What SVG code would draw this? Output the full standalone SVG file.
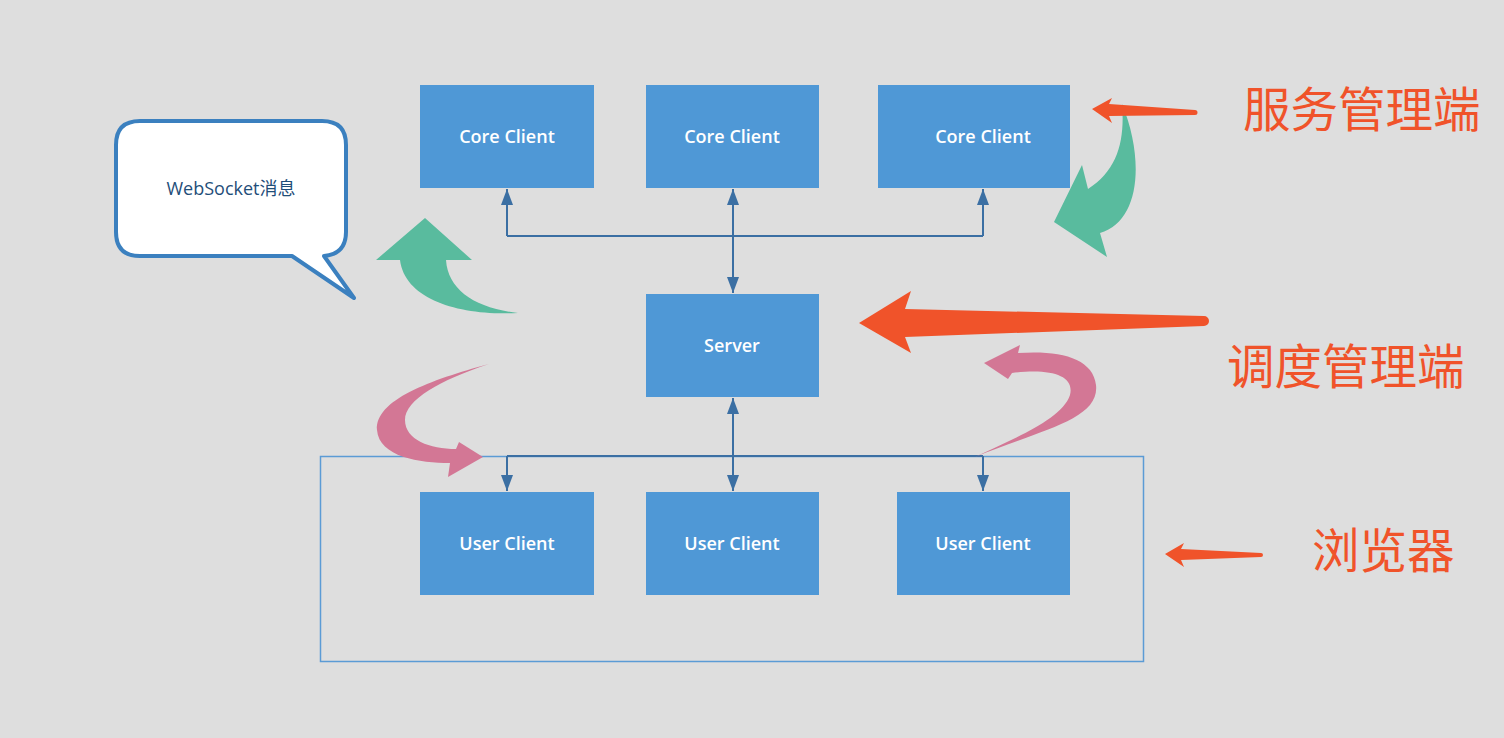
<svg xmlns="http://www.w3.org/2000/svg" width="1504" height="738" viewBox="0 0 1504 738">
<defs>
<style>
.box{fill:#4f98d6;}
.bt{fill:#ffffff;font-family:"Open Sans","Liberation Sans",sans-serif;font-size:18px;font-weight:600;text-anchor:middle;}
.conn{fill:none;stroke:#3b6fa3;stroke-width:2;}
.lbl{fill:#f0532a;font-family:"Noto Sans CJK SC","Noto Sans",sans-serif;font-size:47.5px;}
.orange{fill:#f0532a;}
.green{fill:#59bb9e;}
.pink{fill:#d37795;}
</style>
<marker id="ah" viewBox="0 0 16 12" refX="16" refY="6" markerWidth="8" markerHeight="6" markerUnits="strokeWidth" orient="auto">
<path d="M0,0 L16,6 L0,12 Z" fill="#3b6fa3"/>
</marker>
</defs>
<rect x="0" y="0" width="1504" height="738" fill="#dedede"/>

<g id="browser-frame">
<rect x="320.5" y="456.5" width="823" height="205" fill="none" stroke="#5b9bd5" stroke-width="1.5"/>
</g>

<g id="connectors">
<path class="conn" d="M507,236 H983"/>
<path class="conn" d="M507,236 V189" marker-end="url(#ah)"/>
<path class="conn" d="M983,236 V189" marker-end="url(#ah)"/>
<path class="conn" d="M733,236 V189" marker-end="url(#ah)"/>
<path class="conn" d="M733,236 V293" marker-end="url(#ah)"/>
<path class="conn" d="M507,456 H983"/>
<path class="conn" d="M507,456 V491" marker-end="url(#ah)"/>
<path class="conn" d="M983,456 V491" marker-end="url(#ah)"/>
<path class="conn" d="M733,456 V491" marker-end="url(#ah)"/>
<path class="conn" d="M733,456 V398" marker-end="url(#ah)"/>
</g>

<g id="core-client-1"><rect class="box" x="420" y="85" width="174" height="103"/><text class="bt" x="507" y="143">Core Client</text></g>
<g id="core-client-2"><rect class="box" x="646" y="85" width="173" height="103"/><text class="bt" x="732" y="143">Core Client</text></g>
<g id="core-client-3"><rect class="box" x="878" y="85" width="192" height="103"/><text class="bt" x="983" y="143">Core Client</text></g>
<g id="server"><rect class="box" x="646" y="294" width="173" height="103"/><text class="bt" x="732" y="352" font-size="17" font-weight="700">Server</text></g>
<g id="user-client-1"><rect class="box" x="420" y="492" width="174" height="103"/><text class="bt" x="507" y="550">User Client</text></g>
<g id="user-client-2"><rect class="box" x="646" y="492" width="173" height="103"/><text class="bt" x="732" y="550">User Client</text></g>
<g id="user-client-3"><rect class="box" x="897" y="492" width="173" height="103"/><text class="bt" x="983" y="550">User Client</text></g>

<g id="bubble">
<path d="M140,121 H322 Q346,121 346,145 V232 Q346,254 324,256 L354,298 L292,256 H140 Q116,256 116,232 V145 Q116,121 140,121 Z" fill="#ffffff" stroke="#3b80bf" stroke-width="4" stroke-linejoin="round"/>
<text x="231" y="195" fill="#1f4e79" font-family="'Open Sans','Noto Sans CJK SC',sans-serif" font-size="18" text-anchor="middle">WebSocket消息</text>
</g>

<g id="green-arrow-left"><path class="green" d="M425,218 L472,260 L446,260 C448,290 475,308 518,313 C460,316 405,300 400,260 L376,260 Z"/></g>
<g id="green-arrow-right"><path class="green" d="M1122,104 C1145,160 1140,222 1100,233 L1107,257 L1054,222 L1082,165 L1088,189 C1118,170 1125,140 1122,104 Z"/></g>
<g id="pink-arrow-left"><path class="pink" d="M489,364 C430,380 375,400 377,430 C379,457 420,463 450,463 L448,477 L483,457 L459,442 L456,449 C430,449 405,440 405,420 C405,400 440,380 489,364 Z"/></g>
<g id="pink-arrow-right"><path class="pink" d="M975,457 C1040,430 1100,420 1096,385 C1093,358 1060,350 1018,353 L1020,345 L984,363 L1008,379 L1012,373 C1050,368 1075,375 1070,395 C1062,420 1010,440 975,457 Z"/></g>

<g id="orange-arrow-top"><path class="orange" d="M1092,109 L1112,98 L1109,104 L1195,110 A2.5,2.5 0 0 1 1195,115 L1109,116 L1112,123 Z"/></g>
<g id="orange-arrow-mid"><path class="orange" d="M859,323 L911,291 L905,309 L1204,316 A5,5 0 0 1 1204,326 L905,337 L911,353 Z"/></g>
<g id="orange-arrow-bottom"><path class="orange" d="M1165,554 L1184,543 L1181,549 L1261,553 A2,2 0 0 1 1261,557 L1181,560 L1184,567 Z"/></g>

<g id="label-service"><text class="lbl" x="1243" y="127">服务管理端</text></g>
<g id="label-dispatch"><text class="lbl" x="1227" y="384">调度管理端</text></g>
<g id="label-browser"><text class="lbl" x="1312" y="568">浏览器</text></g>
</svg>
